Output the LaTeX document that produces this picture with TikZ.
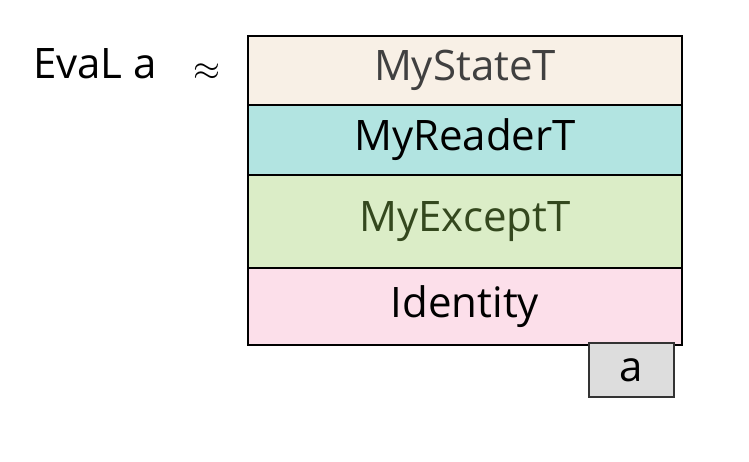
\documentclass[tikz,border=0pt]{standalone}
\usepackage{fontspec}
\setmainfont{Open Sans}
\usetikzlibrary{positioning}
\definecolor{st_c}{HTML}{F8F0E6}
\definecolor{rd_c}{HTML}{B2E4E1}
\definecolor{ex_c}{HTML}{DBEDC7}
\definecolor{id_c}{HTML}{FCDFEA}
\definecolor{val_c}{HTML}{DDDDDD}
\definecolor{ex_t}{HTML}{34481E}
\tikzset{
  laynode/.style = {rectangle, draw=black, line width=1pt, inner sep=0pt,
    outer sep=0pt, minimum width=217pt, anchor=north,
    font=\fontsize{21}{24}\selectfont},
  lay_s/.style = {laynode, fill=st_c, text=black!75, minimum height=34.5pt},
  lay_r/.style = {laynode, fill=rd_c, minimum height=35pt},
  lay_e/.style = {laynode, fill=ex_c, text=ex_t, minimum height=46.5pt},
  lay_i/.style = {laynode, fill=id_c, minimum height=38.5pt},
  val_n/.style = {rectangle, draw=black!80, line width=1pt, fill=val_c,
    minimum width=42.5pt, minimum height=27pt, inner sep=0pt,
    font=\fontsize{21}{24}\selectfont},
  lbl_n/.style = {font=\fontsize{21}{24}\selectfont}
}
\begin{document}
\begin{tikzpicture}[x=0.5pt,y=-0.5pt]
\useasboundingbox (0,0) rectangle (749,461);
\node [lay_s, anchor=north west] (st) at (248,36) {MyStateT};
\node [lay_r, below=0pt of st] (rd) {MyReaderT};
\node [lay_e, below=0pt of rd] (ex) {MyExceptT};
\node [lay_i, below=0pt of ex] (idn) {Identity};
\node [val_n, below left=-1.5pt and 3.5pt of idn.south east] (val) {a};
\node [lbl_n] (ev) at (95,64) {EvaL a};
\node [font=\fontsize{16}{20}\selectfont] (apx) at (207,72) {$\approx$};
\end{tikzpicture}
\end{document}
